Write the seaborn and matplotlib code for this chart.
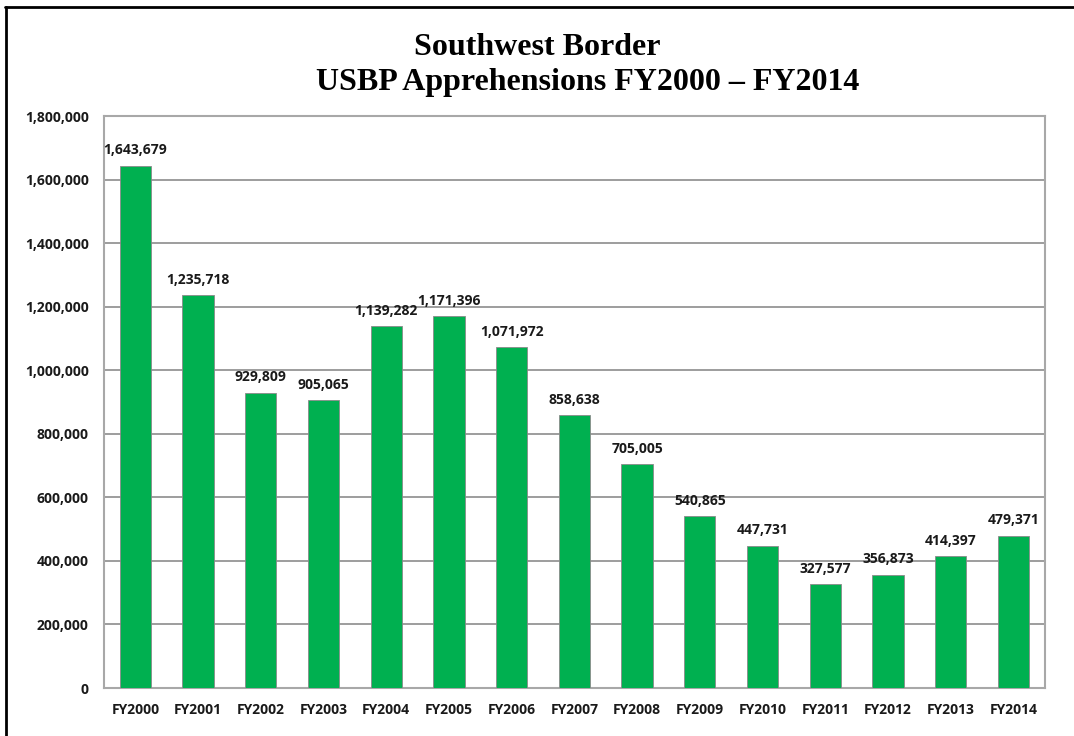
import matplotlib
matplotlib.use("Agg")
import matplotlib.pyplot as plt
import matplotlib.ticker as mticker
import pandas as pd
import seaborn as sns

# data
years = ["FY2000", "FY2001", "FY2002", "FY2003", "FY2004", "FY2005", "FY2006", "FY2007",
         "FY2008", "FY2009", "FY2010", "FY2011", "FY2012", "FY2013", "FY2014"]
apprehensions = [1643679, 1235718, 929809, 905065, 1139282, 1171396, 1071972, 858638,
                 705005, 540865, 447731, 327577, 356873, 414397, 479371]
y_ticks = list(range(0, 1800001, 200000))

df = pd.DataFrame({"year": years, "count": apprehensions})

sns.set_theme(style="white")
plt.rcParams["font.family"] = ["Open Sans", "DejaVu Sans"]

fig = plt.figure(figsize=(10.74, 7.36), dpi=100)
ax = fig.add_axes([0.0968, 0.0652, 0.876, 0.777])

sns.barplot(data=df, x="year", y="count", color="#00B050", width=0.5,
            saturation=1, edgecolor="#8a8a8a", linewidth=0.6, ax=ax, zorder=3)

ax.set_ylim(0, 1800000)
ax.set_xlim(-0.5, len(years) - 0.5)
ax.set_yticks(y_ticks)
ax.yaxis.set_major_formatter(mticker.FuncFormatter(lambda v, p: f"{int(v):,}"))
ax.grid(axis="y", color="#8c8c8c", linewidth=1.2, zorder=0)
ax.set_axisbelow(True)
ax.set_xlabel("")
ax.set_ylabel("")

for side in ["left", "top", "right", "bottom"]:
    ax.spines[side].set_visible(True)
    ax.spines[side].set_color("#a8a8a8")
    ax.spines[side].set_linewidth(1.5)

# category-boundary tick marks below the axis
ax.set_xticks([i + 0.5 for i in range(-1, len(years))], minor=True)
ax.tick_params(axis="x", which="minor", length=5, width=1, color="#a0a0a0", direction="out")
ax.tick_params(axis="x", which="major", length=0, pad=11)
ax.tick_params(axis="y", length=0, pad=11)
for lab in ax.get_xticklabels() + ax.get_yticklabels():
    lab.set_fontsize(10)
    lab.set_fontweight("bold")
    lab.set_color("#1a1a1a")

for i, v in enumerate(apprehensions):
    ax.annotate(f"{v:,}", (i, v), xytext=(0, 6), textcoords="offset points",
                ha="center", va="bottom", fontsize=10, fontweight="bold", color="#1a1a1a")

fig.text(0.5, 0.936, "Southwest Border", ha="center", va="center", color="black",
         fontsize=23, fontweight="bold", family=["Liberation Serif", "DejaVu Serif"])
fig.text(0.547, 0.888, "USBP Apprehensions FY2000 \u2013 FY2014", ha="center", va="center",
         color="black", fontsize=23, fontweight="bold", family=["Liberation Serif", "DejaVu Serif"])

# outer frame (left and top edges visible in the reference)
fig.add_artist(plt.Line2D([0.006, 0.006], [0.0, 0.99], color="black", linewidth=2,
                          transform=fig.transFigure))
fig.add_artist(plt.Line2D([0.005, 1.0], [0.99, 0.99], color="black", linewidth=2,
                          transform=fig.transFigure))

fig.savefig("out.png", dpi=100)
